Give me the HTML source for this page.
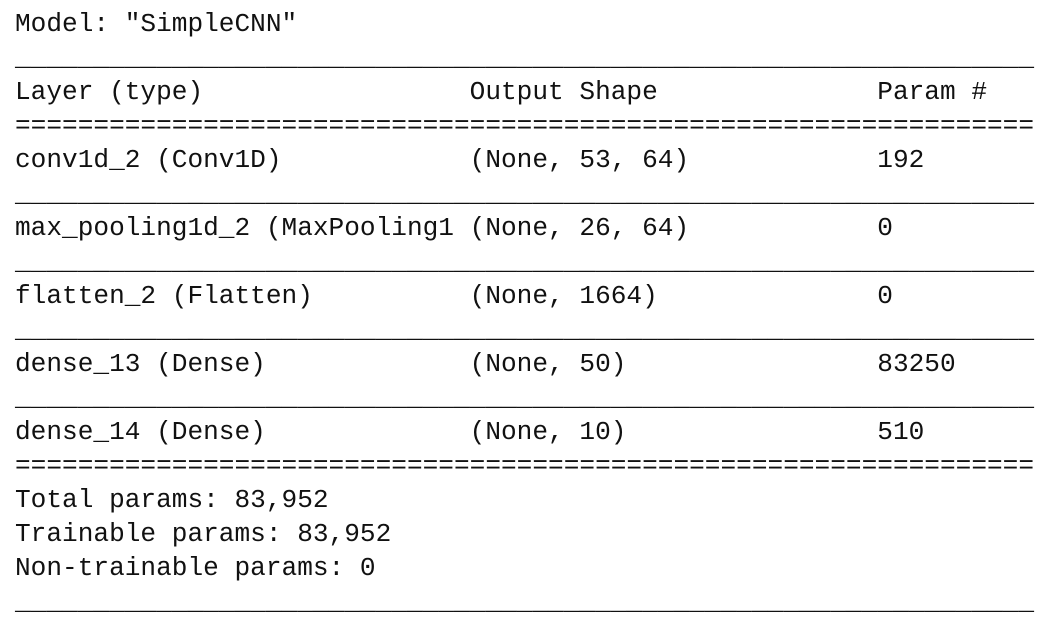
<!DOCTYPE html>
<html><head><meta charset="utf-8"><style>
html,body{margin:0;padding:0;background:#fff;width:1062px;height:626px;overflow:hidden}
pre{position:absolute;left:15px;top:7px;margin:0;font-family:"Liberation Mono",monospace;font-size:26.13px;line-height:34px;color:#111;white-space:pre}
</style></head><body>
<pre>Model: "SimpleCNN"
_________________________________________________________________
Layer (type)                 Output Shape              Param #   
=================================================================
conv1d_2 (Conv1D)            (None, 53, 64)            192       
_________________________________________________________________
max_pooling1d_2 (MaxPooling1 (None, 26, 64)            0         
_________________________________________________________________
flatten_2 (Flatten)          (None, 1664)              0         
_________________________________________________________________
dense_13 (Dense)             (None, 50)                83250     
_________________________________________________________________
dense_14 (Dense)             (None, 10)                510       
=================================================================
Total params: 83,952
Trainable params: 83,952
Non-trainable params: 0
_________________________________________________________________</pre>
</body></html>
